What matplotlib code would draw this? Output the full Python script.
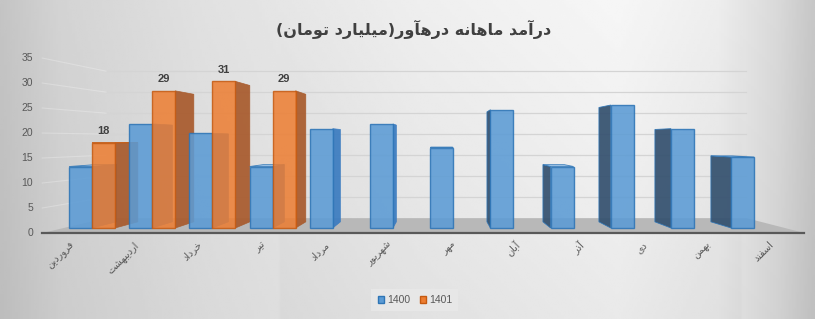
# monthly revenue chart - Excel style 3D clustered columns
import numpy as np
import matplotlib
matplotlib.use("Agg")
import matplotlib.pyplot as plt
from matplotlib.patches import Polygon, Patch

# %%
# data

months = ["فروردین", "اردیبهشت", "خرداد", "تیر", "مرداد", "شهریور",
          "مهر", "\u0622بان", "\u0622ذر", "دی", "بهمن", "اسفند"]
sales_1400 = [13, 22, 20, 13, 21, 22, 17, 25, 13, 26, 21, 15]
sales_1401 = [18, 29, 31, 29]
series_names = ["1400", "1401"]
yticks = [0, 5, 10, 15, 20, 25, 30, 35]
title = "در\u0622مد ماهانه دره\u0622ور(میلیارد تومان)"

# %%
# persian text -> presentation forms, visual order (matplotlib does no shaping)

FORMS = {  # isolated, final, initial, medial
    "ا": (0xFE8D, 0xFE8E, None, None),
    "\u0622": (0xFE81, 0xFE82, None, None),
    "ب": (0xFE8F, 0xFE90, 0xFE91, 0xFE92),
    "ت": (0xFE95, 0xFE96, 0xFE97, 0xFE98),
    "خ": (0xFEA5, 0xFEA6, 0xFEA7, 0xFEA8),
    "د": (0xFEA9, 0xFEAA, None, None),
    "ذ": (0xFEAB, 0xFEAC, None, None),
    "ر": (0xFEAD, 0xFEAE, None, None),
    "س": (0xFEB1, 0xFEB2, 0xFEB3, 0xFEB4),
    "ش": (0xFEB5, 0xFEB6, 0xFEB7, 0xFEB8),
    "ف": (0xFED1, 0xFED2, 0xFED3, 0xFED4),
    "ل": (0xFEDD, 0xFEDE, 0xFEDF, 0xFEE0),
    "م": (0xFEE1, 0xFEE2, 0xFEE3, 0xFEE4),
    "ن": (0xFEE5, 0xFEE6, 0xFEE7, 0xFEE8),
    "ه": (0xFEE9, 0xFEEA, 0xFEEB, 0xFEEC),
    "و": (0xFEED, 0xFEEE, None, None),
    "ی": (0xFEEF, 0xFEF0, 0xFEF3, 0xFEF4),
}


def shape(text):
    out = []
    for k, c in enumerate(text):
        if c not in FORMS:
            out.append({"(": ")", ")": "("}.get(c, c))
            continue
        prev = text[k - 1] if k > 0 else ""
        nxt = text[k + 1] if k + 1 < len(text) else ""
        join_prev = prev in FORMS and FORMS[prev][2] is not None
        join_next = FORMS[c][2] is not None and nxt in FORMS
        iso, fin, ini, med = FORMS[c]
        if join_prev and join_next:
            g = med
        elif join_prev:
            g = fin
        elif join_next:
            g = ini
        else:
            g = iso
        out.append(chr(g))
    return "".join(out[::-1])


# %%
# look

W, H = 815, 319
blue, blue_edge = "#5B9BD5", "#2E75B6"
orange, orange_edge = "#ED7D31", "#C55A11"
text_color = "#595959"
num_font = "Liberation Sans"

bw = 0.382                 # bar width in category units
VX, VV = 5.8, 18.6         # vanishing point
S_FRONT, S_BAR, S_WALL = 1.057, 0.93, 0.888
x_left, x_right = -0.47, 11.51


def proj(x, v, s):
    return VX + s * (x - VX), VV + s * (v - VV)


fig = plt.figure(figsize=(W / 100, H / 100), dpi=100)

# background gradient
bg = fig.add_axes([0, 0, 1, 1], zorder=-5)
xx, yy = np.meshgrid(np.linspace(0, W, 300), np.linspace(0, H, 120))
hx = np.interp(xx, [0, 60, 200, 420, 620, 720, 780, 815],
               [0.77, 0.83, 0.88, 0.935, 0.965, 0.93, 0.85, 0.78])
shade = hx - 0.05 * yy / H + 0.02 * (yy / H) * (hx < 0.9)
bg.imshow(shade, cmap="gray", vmin=0, vmax=1, aspect="auto",
          extent=[0, W, H, 0], interpolation="bilinear")
bg.set_axis_off()

ax = fig.add_axes([0, 0, 1, 1])
ax.patch.set_alpha(0)
ax.set_xlim(-92 / 60.2, (W - 92) / 60.2)
ax.set_ylim(-(H - 228) / 4.73, 228 / 4.73)
ax.set_axis_off()

# back wall + side wall gridlines
for v in yticks[1:]:
    p0 = proj(x_left, v, S_WALL)
    p1 = proj(x_right, v, S_WALL)
    ax.plot([p0[0], p1[0]], [p0[1], p1[1]], color="#d4d4d4", lw=0.9, zorder=1)
    p2 = proj(x_left, v, S_FRONT)
    ax.plot([p2[0], p0[0]], [p2[1], p0[1]], color="white", alpha=0.25,
            lw=0.8, zorder=1)

# floor
floor = [proj(x_left, 0, S_FRONT), proj(x_right, 0, S_FRONT),
         proj(x_right, 0, S_WALL), proj(x_left, 0, S_WALL)]
ax.add_patch(Polygon(floor, closed=True, fc="#b8b8b8", ec="none", zorder=2))
f0, f1 = floor[0], floor[1]
ax.plot([f0[0], f1[0]], [f0[1], f1[1]], color="#595959", lw=1.6, zorder=3)

# y tick labels
for v in yticks:
    px, py = proj(x_left, v, S_FRONT)
    ax.text(px - 0.15, py, str(v), ha="right", va="center", fontsize=7.5,
            family=num_font, color=text_color)

# category labels
for i, m in enumerate(months):
    px, _ = proj(i, 0, S_FRONT)
    ax.text(px - 0.05, -2.4, shape(m), rotation=45, rotation_mode="anchor",
            ha="right", va="top", fontsize=7, family="DejaVu Sans",
            color=text_color)

# bars (front faces through ax.bar, sides/tops in perspective)
x1400 = np.arange(len(sales_1400)) - bw
x1401 = np.arange(len(sales_1401))
fronts_a = ax.bar(x1400, sales_1400, width=bw, align="edge", color=blue,
                  alpha=0.88, edgecolor=blue_edge, linewidth=1)
fronts_b = ax.bar(x1401, sales_1401, width=bw, align="edge", color=orange,
                  alpha=0.85, edgecolor=orange_edge, linewidth=1)

bars = []
for p, x0, v in zip(fronts_a, x1400, sales_1400):
    bars.append((p, x0, v, "1400"))
for p, x0, v in zip(fronts_b, x1401, sales_1401):
    bars.append((p, x0, v, "1401"))
bars.sort(key=lambda b: -abs(b[1] + bw / 2 - VX))

for rank, (patch, x0, v, name) in enumerate(bars):
    x1 = x0 + bw
    z = 10 + rank * 3
    if x1 <= VX:
        pts = [(x1, 0), (x1, v), proj(x1, v, S_BAR), proj(x1, 0, S_BAR)]
        fc = "#A85A2C" if name == "1401" else "#3A7BC0"
        ax.add_patch(Polygon(pts, closed=True, fc=fc, ec=fc, lw=0.5,
                             alpha=0.92, zorder=z))
    elif x0 >= VX:
        pts = [(x0, 0), (x0, v), proj(x0, v, S_BAR), proj(x0, 0, S_BAR)]
        ax.add_patch(Polygon(pts, closed=True, fc="#33506E", ec=blue_edge,
                             lw=0.6, alpha=0.92, zorder=z))
    if v < VV:
        pts = [(x0, v), (x1, v), proj(x1, v, S_BAR), proj(x0, v, S_BAR)]
        fc = "#F4B183" if name == "1401" else "#9DC3E6"
        ax.add_patch(Polygon(pts, closed=True, fc=fc, ec=patch.get_edgecolor(),
                             lw=0.6, zorder=z + 1))
    patch.set_zorder(z + 2)

# value labels for 1401
for x0, v in zip(x1401, sales_1401):
    ax.text(x0 + bw / 2, v + 2.5, str(v), ha="center", va="center",
            fontsize=8, fontweight="bold", family=num_font, color="#404040",
            zorder=60)

# title
fig.text(414 / W, 1 - 29 / H, shape(title), ha="center", va="center",
         fontsize=11.5, fontweight="bold", family="DejaVu Sans", color="#404040")

# legend
handles = [Patch(fc=blue, ec=blue_edge), Patch(fc=orange, ec=orange_edge)]
leg = fig.legend(handles, series_names, loc="center",
                 bbox_to_anchor=(415 / W, 1 - 300 / H), ncol=2, frameon=True,
                 fontsize=7.5, handlelength=0.6, handleheight=0.75,
                 handletextpad=0.3, columnspacing=0.9, borderpad=0.6,
                 fancybox=False)
leg.get_frame().set_facecolor("#e9e9e9")
leg.get_frame().set_edgecolor("none")
for t in leg.get_texts():
    t.set_family(num_font)
    t.set_color(text_color)

fig.savefig("out.png", dpi=100)
